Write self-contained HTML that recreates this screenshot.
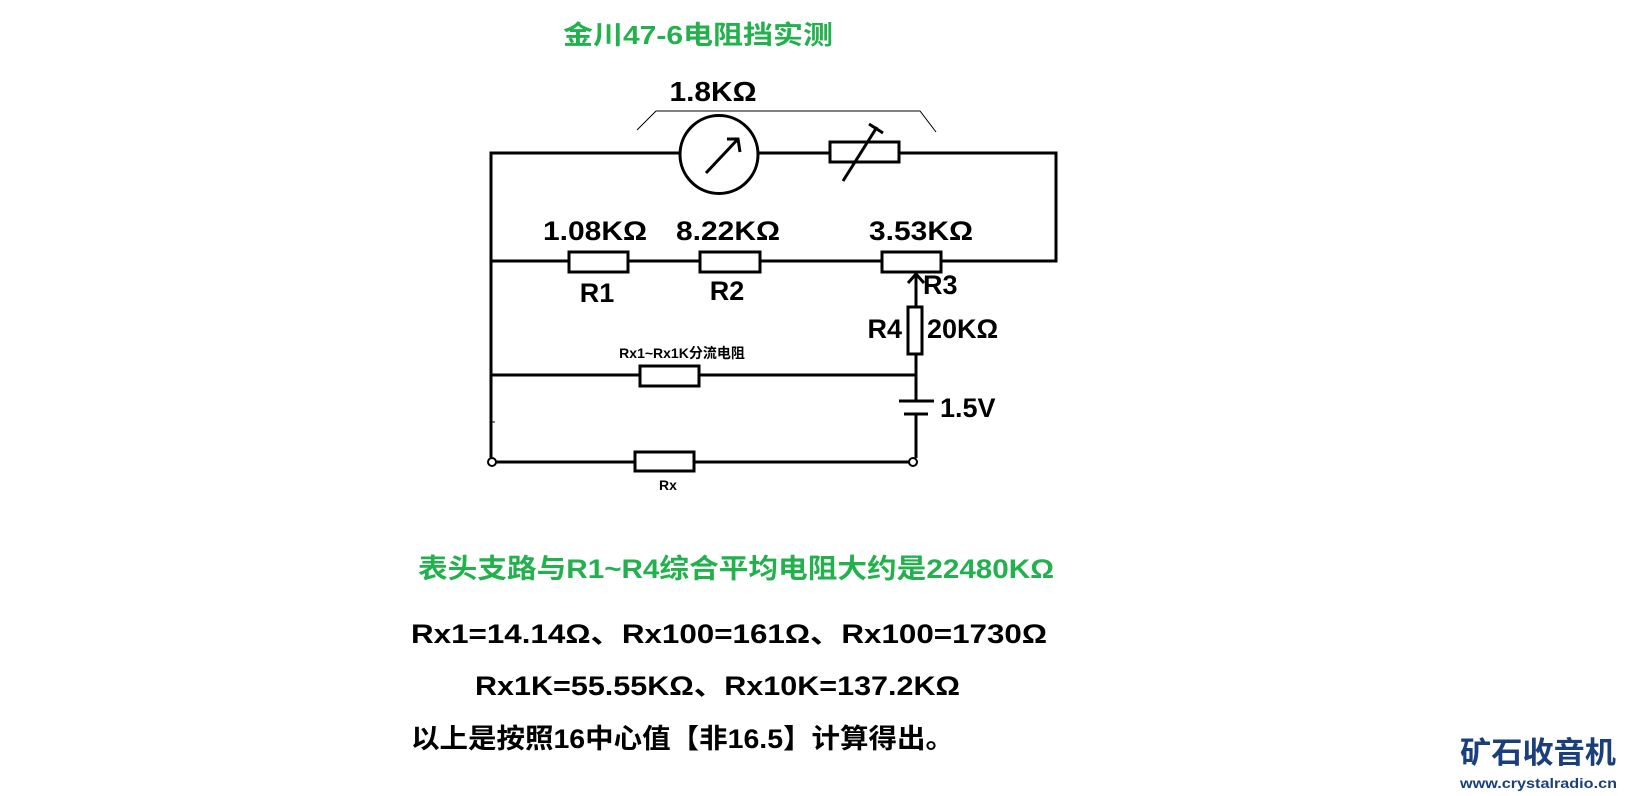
<!DOCTYPE html>
<html><head><meta charset="utf-8"><style>
html,body{margin:0;padding:0;background:#fff;}
svg{display:block;}
text{font-family:"Liberation Sans","Noto Sans CJK SC",sans-serif;font-weight:bold;}
</style></head><body>
<svg width="1625" height="796" viewBox="0 0 1625 796" xmlns="http://www.w3.org/2000/svg">
<rect width="1625" height="796" fill="#fff"/>
<g stroke="#000" stroke-width="3" fill="none">
  <!-- top loop -->
  <polyline points="491,462 491,153 680,153"/>
  <line x1="758" y1="153" x2="830" y2="153"/>
  <polyline points="899,153 1056,153 1056,261 941,261"/>
  <circle cx="719" cy="154.5" r="39"/>
  <rect x="830" y="142" width="69" height="20" fill="#fff"/>
  <!-- mid wire -->
  <line x1="491" y1="261" x2="569" y2="261"/>
  <line x1="628" y1="261" x2="700" y2="261"/>
  <line x1="760" y1="261" x2="882" y2="261"/>
  <rect x="569" y="252" width="59" height="20" fill="#fff"/>
  <rect x="700" y="252" width="60" height="20" fill="#fff"/>
  <rect x="882" y="252" width="59" height="20" fill="#fff"/>
  <!-- wiper -->
  <line x1="916" y1="274" x2="916" y2="307"/>
  <polyline points="908,283 916,274 924,283"/>
  <rect x="908" y="307" width="14" height="47" fill="#fff"/>
  <line x1="916" y1="354" x2="916" y2="401"/>
  <!-- shunt -->
  <line x1="491" y1="375" x2="640" y2="375"/>
  <line x1="699" y1="375" x2="916" y2="375"/>
  <rect x="640" y="366" width="59" height="20" fill="#fff"/>
  <!-- battery -->
  <line x1="899" y1="401" x2="934" y2="401"/>
  <line x1="904" y1="414" x2="928" y2="414"/>
  <line x1="916" y1="414" x2="916" y2="458"/>
  <!-- bottom -->
  <line x1="496" y1="462" x2="635" y2="462"/>
  <line x1="694" y1="462" x2="909" y2="462"/>
  <rect x="635" y="452" width="59" height="19" fill="#fff"/>
  <circle cx="492" cy="462" r="4" stroke-width="2" fill="#fff"/>
  <circle cx="913" cy="462" r="4" stroke-width="2" fill="#fff"/>
  <line x1="491" y1="422" x2="495" y2="422" stroke-width="1"/>
  <!-- meter arrow -->
  <line x1="706" y1="173" x2="738" y2="139"/>
  <polyline points="727,139 738,139 740,152"/>
  <!-- variable resistor slash -->
  <line x1="843" y1="181" x2="877" y2="127"/>
  <line x1="869" y1="124" x2="883" y2="133"/>
  <!-- bracket -->
  <polyline points="637,130 656,111 920,111 936,132" stroke-width="1"/>
</g>
<g fill="#000">
  <text x="713" y="101" font-size="28" text-anchor="middle" textLength="87" lengthAdjust="spacingAndGlyphs">1.8KΩ</text>
  <text x="595" y="240" font-size="27" text-anchor="middle" textLength="104" lengthAdjust="spacingAndGlyphs">1.08KΩ</text>
  <text x="728" y="240" font-size="27" text-anchor="middle" textLength="104" lengthAdjust="spacingAndGlyphs">8.22KΩ</text>
  <text x="921" y="240" font-size="27" text-anchor="middle" textLength="104" lengthAdjust="spacingAndGlyphs">3.53KΩ</text>
  <text x="597" y="302" font-size="27" text-anchor="middle">R1</text>
  <text x="727" y="300" font-size="27" text-anchor="middle">R2</text>
  <text x="923" y="294" font-size="27">R3</text>
  <text x="902" y="338" font-size="27" text-anchor="end">R4</text>
  <text x="927" y="338" font-size="27">20KΩ</text>
  <text x="940" y="417" font-size="27">1.5V</text>
  <text x="682" y="358" font-size="14" text-anchor="middle">Rx1~Rx1K分流电阻</text>
  <text x="668" y="490" font-size="14" text-anchor="middle">Rx</text>
</g>
<text x="563" y="44" font-size="26" fill="#22b14c" textLength="270" lengthAdjust="spacingAndGlyphs">金川47-6电阻挡实测</text>
<text x="418" y="578" font-size="27" fill="#22b14c" textLength="636" lengthAdjust="spacingAndGlyphs">表头支路与R1~R4综合平均电阻大约是22480KΩ</text>
<text x="411" y="643" font-size="27" fill="#000" textLength="636" lengthAdjust="spacingAndGlyphs">Rx1=14.14Ω、Rx100=161Ω、Rx100=1730Ω</text>
<text x="475" y="695" font-size="27" fill="#000" textLength="485" lengthAdjust="spacingAndGlyphs">Rx1K=55.55KΩ、Rx10K=137.2KΩ</text>
<text x="411" y="748" font-size="27" fill="#000" textLength="543" lengthAdjust="spacingAndGlyphs">以上是按照16中心值【非16.5】计算得出。</text>
<text x="1460" y="763" font-size="30" fill="#1a3f7a" textLength="156" lengthAdjust="spacingAndGlyphs">矿石收音机</text>
<text x="1460" y="788" font-size="14" fill="#1a3f7a" font-weight="normal" textLength="157" lengthAdjust="spacingAndGlyphs">www.crystalradio.cn</text>
</svg>
</body></html>
